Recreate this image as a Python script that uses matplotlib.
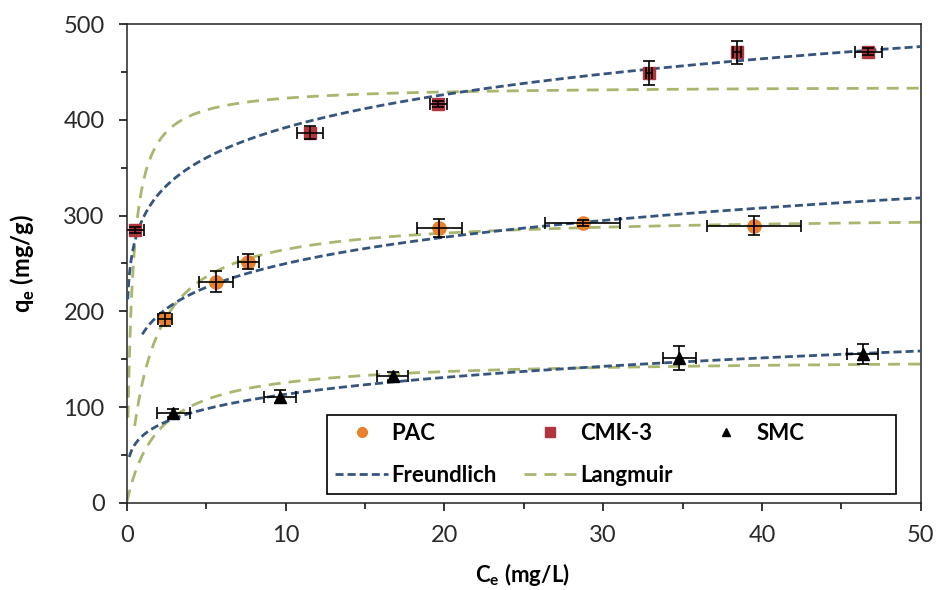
import numpy as np
import matplotlib
matplotlib.use("Agg")
import matplotlib.pyplot as plt
from matplotlib.lines import Line2D
from matplotlib.patches import Rectangle
from matplotlib.ticker import MultipleLocator

plt.rcParams['font.family'] = ['Lato', 'DejaVu Sans']

# ---- data ----
pac_ce = [2.42, 5.62, 7.64, 19.69, 28.71, 39.52]
pac_qe = [191.6, 231.0, 252.0, 286.8, 292.0, 289.5]
pac_xerr = [0.46, 1.10, 0.66, 1.44, 2.36, 2.95]
pac_yerr = [7.0, 11.0, 8.0, 9.6, 3.0, 10.0]

cmk_ce = [0.54, 11.55, 19.62, 32.90, 38.45, 46.70]
cmk_qe = [285.0, 386.7, 416.4, 449.4, 470.7, 471.4]
cmk_xerr = [0.57, 0.81, 0.52, 0.20, 0.25, 0.86]
cmk_yerr = [3.0, 7.0, 3.0, 12.5, 11.7, 4.0]

smc_ce = [2.93, 9.67, 16.74, 34.80, 46.35]
smc_qe = [93.4, 110.8, 132.4, 151.6, 155.1]
smc_xerr = [1.03, 1.02, 1.00, 1.02, 0.98]
smc_yerr = [4.0, 7.0, 4.0, 12.5, 10.5]

# Fitted isotherm parameters (Freundlich: K, 1/n ; Langmuir: qm, KL) and fit start Ce
freund_K = {'PAC': 176.5, 'CMK-3': 296.4, 'SMC': 70.0}
freund_invn = {'PAC': 0.151, 'CMK-3': 0.1215, 'SMC': 0.209}
freund_start = {'PAC': 0.98, 'CMK-3': 0.065, 'SMC': 0.16}
lang_qm = {'PAC': 301.2, 'CMK-3': 436.0, 'SMC': 150.7}
lang_KL = {'PAC': 0.724, 'CMK-3': 3.2, 'SMC': 0.5}
lang_start = {'PAC': 0.5, 'CMK-3': 0.08, 'SMC': 0.02}

x_ticks = [0, 10, 20, 30, 40, 50]
y_ticks = [0, 100, 200, 300, 400, 500]

# ---- styles ----
c_pac = '#E8802C'
c_cmk = '#B0353D'
c_smc = '#000000'
c_fr = '#35557F'
c_la = '#A8B66E'

fig = plt.figure(figsize=(9.36, 5.9), dpi=100)
ax = fig.add_axes([0.1354, 0.148, 0.8483, 0.8108])

fr_ls = (0, (2.9, 1.45))
la_ls = (0, (4.3, 2.9))

for key in ['CMK-3', 'PAC', 'SMC']:
    c = np.geomspace(lang_start[key], 50, 400)
    q = lang_qm[key] * lang_KL[key] * c / (1 + lang_KL[key] * c)
    ax.plot(c, q, color=c_la, lw=2, ls=la_ls, zorder=2)
for key in ['CMK-3', 'PAC', 'SMC']:
    c = np.geomspace(freund_start[key], 50, 400)
    q = freund_K[key] * c ** freund_invn[key]
    ax.plot(c, q, color=c_fr, lw=2, ls=fr_ls, zorder=3)

ax.plot(pac_ce, pac_qe, 'o', color=c_pac, ms=9.5, mec=c_pac, zorder=4)
ax.plot(cmk_ce, cmk_qe, 's', color=c_cmk, ms=9, mec=c_cmk, zorder=4)
ax.plot(smc_ce, smc_qe, '^', color=c_smc, ms=8, mec=c_smc, zorder=4)

for xs, ys, xe, ye in [(pac_ce, pac_qe, pac_xerr, pac_yerr),
                       (cmk_ce, cmk_qe, cmk_xerr, cmk_yerr),
                       (smc_ce, smc_qe, smc_xerr, smc_yerr)]:
    ax.errorbar(xs, ys, xerr=xe, yerr=ye, fmt='none', ecolor='black',
                elinewidth=1.2, capsize=4, capthick=1.2, zorder=5)

ax.set_xlim(0, 50)
ax.set_ylim(0, 500)
ax.set_xticks(x_ticks)
ax.set_yticks(y_ticks)
ax.xaxis.set_minor_locator(MultipleLocator(5))
ax.yaxis.set_minor_locator(MultipleLocator(50))
ax.tick_params(which='major', direction='out', length=6, width=1.1,
               labelsize=17, labelcolor='#2a2a2a', pad=10)
ax.tick_params(which='minor', direction='out', length=4, width=1.1)
for s in ax.spines.values():
    s.set_linewidth(1.1)
    s.set_color('#222222')

ax.set_xlabel('C$_\\mathregular{e}$ (mg/L)', fontsize=16, fontweight='bold')
ax.xaxis.set_label_coords(0.499, -0.122)
ax.set_ylabel('q$_\\mathregular{e}$ (mg/g)', fontsize=17, fontweight='bold')
ax.yaxis.set_label_coords(-0.113, 0.499)

# legend box (frame drawn separately to match the reference width)
ax.add_patch(Rectangle((0.2523, 0.0182), 0.7167, 0.1651, transform=ax.transAxes,
                       facecolor='white', edgecolor='black', lw=1.2, zorder=6))

handles = [
    Line2D([], [], marker='o', ls='none', color=c_pac, ms=7),
    Line2D([], [], color=c_fr, lw=2, ls=fr_ls),
    Line2D([], [], marker='s', ls='none', color=c_cmk, ms=7),
    Line2D([], [], color=c_la, lw=2, ls=la_ls),
    Line2D([], [], marker='^', ls='none', color=c_smc, ms=6),
]
labels = ['PAC', 'Freundlich', 'CMK-3', 'Langmuir', 'SMC']
leg = ax.legend(handles, labels, ncol=3, loc='center left',
                bbox_to_anchor=(0.2523, 0.1008), frameon=False,
                handlelength=2.4, handletextpad=0.15, columnspacing=1.2,
                labelspacing=0.95, borderpad=0.35, borderaxespad=0,
                prop={'weight': 'bold', 'size': 16})
leg.set_zorder(7)

fig.savefig('out.png', dpi=100)
